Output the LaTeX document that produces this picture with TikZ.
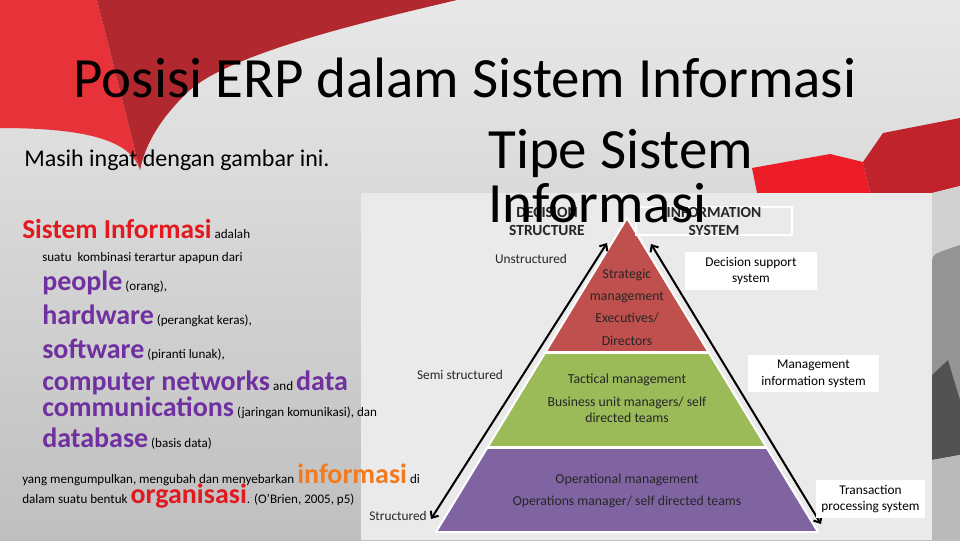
\documentclass[tikz,border=0pt]{standalone}
\usepackage{fontspec}
\setmainfont{Carlito}
\usetikzlibrary{arrows.meta,positioning}
\definecolor{merah}{HTML}{E8323A}
\definecolor{merahtua}{HTML}{B1282E}
\definecolor{merahkanan}{HTML}{EC1D27}
\definecolor{merahkanantua}{HTML}{C0232B}
\definecolor{ungu}{HTML}{7030A0}
\definecolor{jingga}{HTML}{F27B21}
\definecolor{merahteks}{HTML}{E2191F}
\definecolor{pirmerah}{HTML}{C0504D}
\definecolor{pirhijau}{HTML}{9BBB59}
\definecolor{pirungu}{HTML}{8064A2}
\definecolor{panel}{HTML}{EAEAEA}
\newcommand{\kecil}{\fontsize{9.8}{11}\selectfont}
\newcommand{\kata}[1]{{\fontsize{21}{25}\selectfont\bfseries\color{ungu}#1}}
\begin{document}
\begin{tikzpicture}[x=0.75pt, y=-0.75pt,
  judul/.style={anchor=base, inner sep=0pt, font=\fontsize{42.7}{40.5}\selectfont},
  kiri/.style={anchor=base west, inner sep=0pt},
  lbl/.style={anchor=base, inner sep=0pt, align=center, font=\fontsize{10.3}{16.7}\selectfont, text=black!85},
  kotak/.style={fill=white, inner sep=0pt, align=center, font=\fontsize{10}{12.5}\selectfont},
  panah/.style={line width=1.5pt, {Straight Barb[length=4pt,width=7pt]}-{Straight Barb[length=4pt,width=7pt]}}]
  \useasboundingbox (0,0) rectangle (960,540);
  % latar
  \shade[top color=black!9, bottom color=black!25] (0,0) rectangle (960,540);
  \fill[merah] (0,0) -- (97,0) -- (140,170) .. controls (132,145) and (100,128) .. (0,128) -- cycle;
  \fill[merahtua] (97,0) -- (457,0) .. controls (350,25) and (230,55) .. (190,90)
    .. controls (160,118) and (145,145) .. (140,170) -- cycle;
  \fill[merahkanan] (752,168) -- (830,154) -- (863,162) -- (870,193) -- (757,193) -- cycle;
  \fill[merahkanantua] (863,162) -- (883,133) -- (960,118) -- (960,186) -- (932,193) -- (870,193) -- cycle;
  \fill[black!18] (932,193) -- (960,186) -- (960,540) -- (932,540) -- cycle;
  \fill[black!42] (932,268) .. controls (932,255) .. (945,250) -- (960,245) -- (960,400) -- (948,360) -- (932,375) -- cycle;
  \fill[black!68] (932,375) -- (948,360) -- (960,400) -- (960,455) -- (932,460) -- cycle;
  \fill[black!27] (932,460) -- (960,455) -- (960,540) -- (932,540) -- cycle;
  \fill[panel] (361,193) rectangle (932,540);
  % piramida
  \fill[pirmerah] (627,218) -- (545.2,352.5) -- (708.8,352.5) -- cycle;
  \fill[pirhijau] (545.2,352.5) -- (487.4,447.5) -- (766.6,447.5) -- (708.8,352.5) -- cycle;
  \fill[pirungu] (487.4,447.5) -- (436,532) -- (818,532) -- (766.6,447.5) -- cycle;
  \draw[white, line width=1.5pt, line join=round] (627,218) -- (436,532) -- (818,532) -- cycle;
  \draw[white, line width=2pt] (545.2,352.5) -- (708.8,352.5);
  \draw[white, line width=2pt] (487.4,447.5) -- (766.6,447.5);
  \node[lbl] (strategic) at (627,345) {Strategic\\management\\Executives/\\Directors};
  \node[lbl] (tactical) at (627,383) {Tactical management};
  \node[lbl, font=\fontsize{10.3}{11.5}\selectfont] (bisnis) at (627,422) {Business unit managers/ self\\directed teams};
  \node[lbl] (operational) at (627,483) {Operational management};
  \node[lbl] (operations) at (627,505) {Operations manager/ self directed teams};
  % panah
  \coordinate (kiriatas) at (607,243);
  \coordinate (kiribawah) at (431,519);
  \coordinate (kananatas) at (651,244);
  \coordinate (kananbawah) at (821,524);
  \draw[panah] (kiriatas) -- (kiribawah);
  \draw[panah] (kananatas) -- (kananbawah);
  % label kiri
  \node[lbl, font=\fontsize{11.6}{13.5}\selectfont\bfseries] (decision) at (547,235) {DECISION\\STRUCTURE};
  \node[lbl, font=\fontsize{10}{12}\selectfont] (unstr) at (531,263) {Unstructured};
  \node[lbl, font=\fontsize{10}{12}\selectfont] (semi) at (460,379) {Semi structured};
  \node[lbl, font=\fontsize{10}{12}\selectfont] (str) at (398,520) {Structured};
  % label kanan
  \node[draw=white, line width=0.8pt, minimum width=117pt, minimum height=21pt, inner sep=0pt] (infobox) at (714,221) {};
  \node[lbl, font=\fontsize{11.6}{13.5}\selectfont\bfseries] (infosys) at (714,235) {INFORMATION\\SYSTEM};
  \node[kotak, minimum width=99pt, minimum height=28.5pt] (dss) at (751,271) {Decision support\\system};
  \node[kotak, minimum width=98pt, minimum height=27.75pt] (mis) at (813.5,373.5) {Management\\information system};
  \node[kotak, minimum width=82pt, minimum height=28.5pt] (tps) at (870.5,499) {Transaction\\processing system};
  % teks kiri
  \node[kiri, font=\fontsize{18}{21}\selectfont] (ingat) at (24,166) {Masih ingat dengan gambar ini.};
  \node[kiri] (si) at (22,238) {{\fontsize{20.5}{24}\selectfont\bfseries\color{merahteks}Sistem Informasi} \kecil adalah};
  \node[kiri, font=\kecil] (suatu) at (42,261) {suatu\ \ kombinasi terartur apapun dari};
  \node[kiri] (people) at (42,290) {\kata{people} \kecil(orang),};
  \node[kiri] (hardware) at (42,324) {\kata{hardware} \kecil(perangkat keras),};
  \node[kiri] (software) at (42,358) {\kata{software} \kecil(piranti lunak),};
  \node[kiri] (network) at (42,390) {\kata{computer networks} {\kecil and} \kata{data}};
  \node[kiri] (komunikasi) at (42,416) {\kata{communications} \kecil(jaringan komunikasi), dan};
  \node[kiri] (database) at (42,447) {\kata{database} \kecil(basis data)};
  \node[kiri] (yang) at (22,483) {\kecil yang mengumpulkan, mengubah dan menyebarkan {\fontsize{21}{25}\selectfont\bfseries\color{jingga}informasi} di};
  \node[kiri] (dalam) at (22,503) {\kecil dalam suatu bentuk {\fontsize{21}{25}\selectfont\bfseries\color{merahteks}organisasi}. (O’Brien, 2005, p5)};
  % judul
  \node[judul] (judul) at (465,97) {Posisi ERP dalam Sistem Informasi};
  \node[judul, anchor=base west, align=left] (tipe) at (488,222) {Tipe Sistem\\Informasi};
\end{tikzpicture}
\end{document}
